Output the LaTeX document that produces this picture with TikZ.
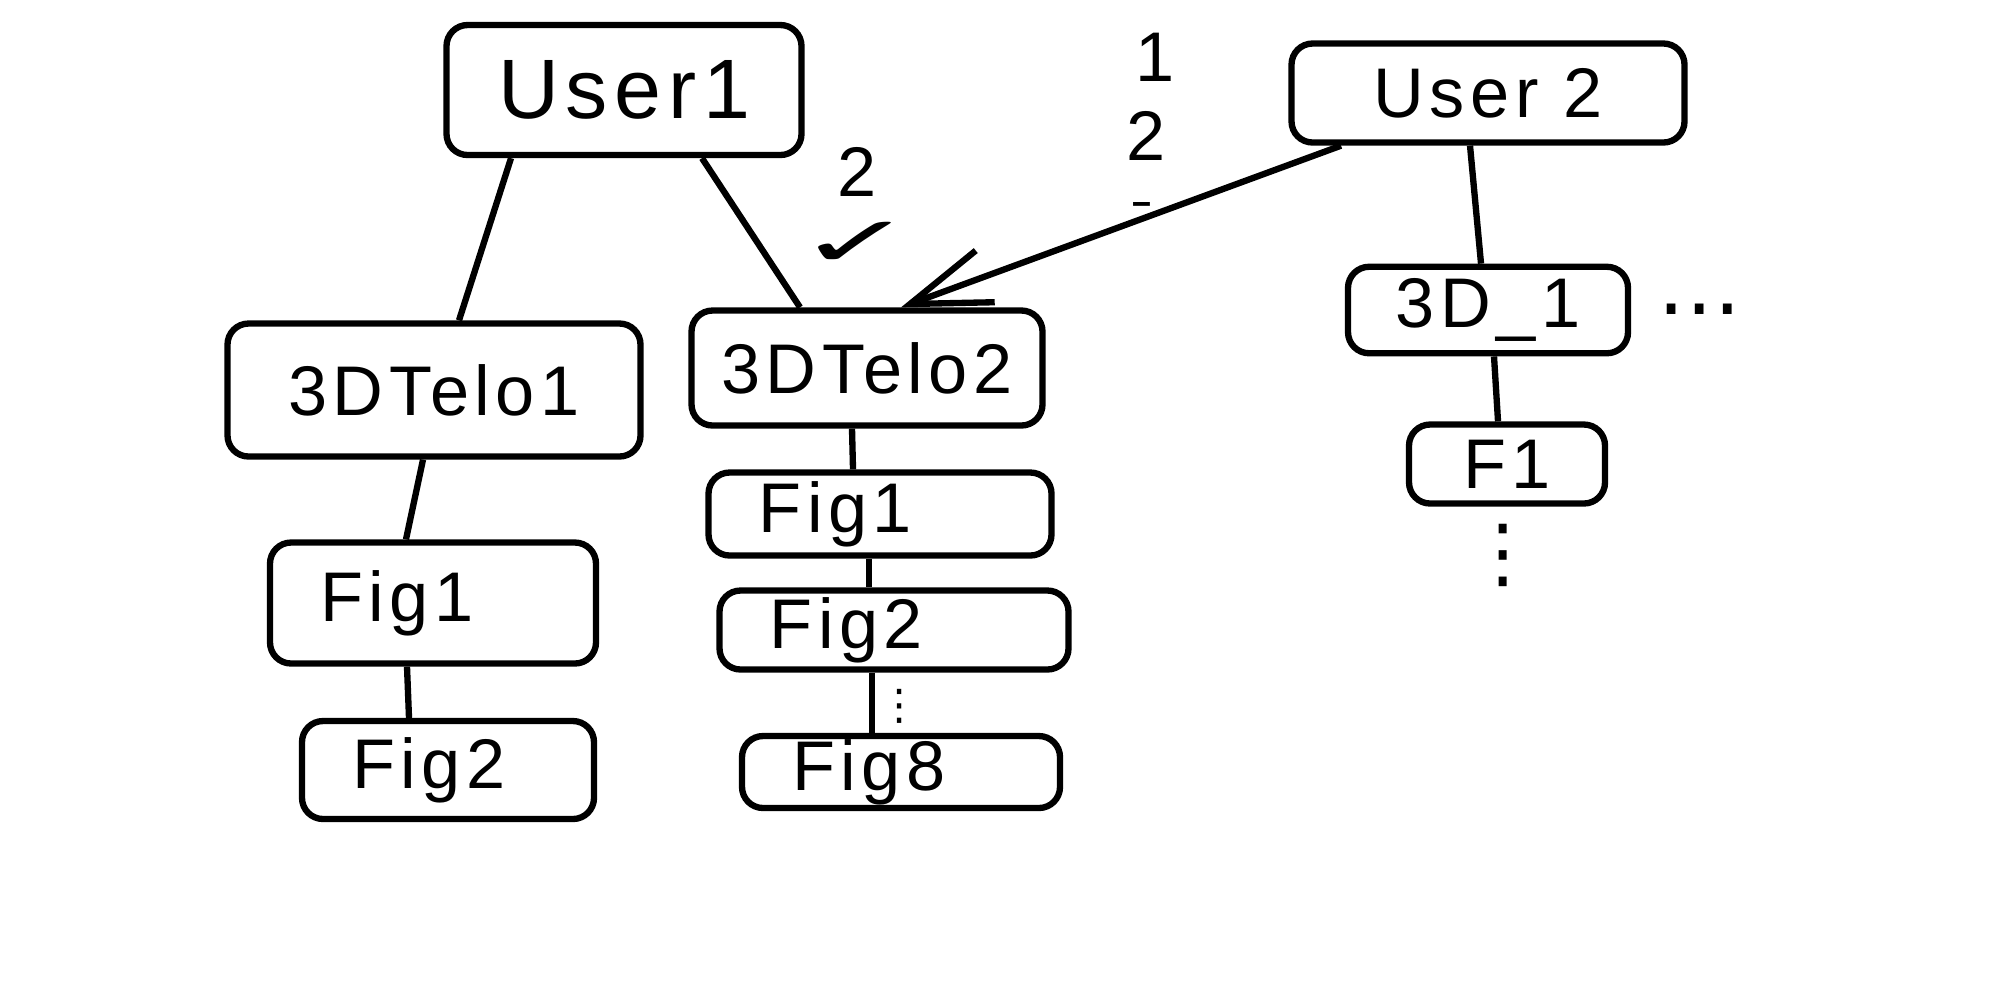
\documentclass[tikz,border=0pt]{standalone}
\usepackage{fontspec}
\setmainfont{Liberation Sans}[LetterSpace=8]
\newfontfamily\symfont{DejaVu Sans}
\usetikzlibrary{arrows.meta}

\begin{document}
\begin{tikzpicture}
	\tikzstyle{box}=[draw=black, line width=1.8pt, rounded corners=6pt, font=\fontsize{20}{24}\selectfont]
	\tikzstyle{figbox}=[box, align=left, inner xsep=5mm, inner ysep=0pt]
	\tikzstyle{wire}=[line width=1.8pt]
	\tikzstyle{note}=[inner sep=0pt, font=\fontsize{20}{24}\selectfont]
	
	\useasboundingbox (0,0) rectangle (19.9,-9.89);
	
	\node at (6.24,-0.90) [box, minimum width=3.55cm, minimum height=1.30cm, font=\fontsize{24}{28}\selectfont] (u1) {User1};
	\node at (14.88,-0.93) [box, minimum width=3.93cm, minimum height=0.99cm] (u2) {User 2};
	
	\node at (4.34,-3.90) [box, minimum width=4.13cm, minimum height=1.33cm] (t1) {3DTelo1};
	\node at (8.67,-3.68) [box, minimum width=3.51cm, minimum height=1.15cm] (t2) {3DTelo2};
	\node at (14.88,-3.10) [box, minimum width=2.80cm, minimum height=0.85cm] (d1) {3D\_1};
	\node at (15.07,-4.64) [box, minimum width=1.96cm, minimum height=0.79cm] (f1) {F1};
	
	\node at (4.33,-6.03) [figbox, text width=2.26cm, minimum height=1.21cm] (fa) {Fig1};
	\node at (4.48,-7.70) [figbox, text width=1.92cm, minimum height=0.98cm] (fb) {Fig2};
	\node at (8.80,-5.14) [figbox, text width=2.43cm, minimum height=0.83cm] (fc) {Fig1};
	\node at (8.94,-6.30) [figbox, text width=2.49cm, minimum height=0.79cm] (fd) {Fig2};
	\node at (9.01,-7.72) [figbox, text width=2.18cm, minimum height=0.72cm] (fe) {Fig8};
	
	\draw [wire] ([xshift=-1.13cm]u1.south) -- ([xshift=0.25cm]t1.north);
	\draw [wire] ([xshift=0.78cm]u1.south) -- ([xshift=-0.67cm]t2.north);
	\draw [wire, -{Straight Barb[length=8mm, width=5.5mm, line width=1.8pt]}] ([xshift=-1.47cm]u2.south) -- ([xshift=0.34cm]t2.north);
	\draw [wire] ([xshift=-0.18cm]u2.south) -- ([xshift=-0.07cm]d1.north);
	\draw [wire] ([xshift=0.06cm]d1.south) -- ([xshift=-0.09cm]f1.north);
	
	\draw [wire] ([xshift=-0.11cm]t1.south) -- ([xshift=-0.27cm]fa.north);
	\draw [wire] ([xshift=-0.26cm]fa.south) -- ([xshift=-0.39cm]fb.north);
	\draw [wire] ([xshift=-0.15cm]t2.south) -- ([xshift=-0.27cm]fc.north);
	\draw [wire] ([xshift=-0.11cm]fc.south) -- ([xshift=-0.25cm]fd.north);
	\draw [wire] ([xshift=-0.22cm]fd.south) -- ([xshift=-0.29cm]fe.north);
	
	\node at (8.57,-1.72) [note] (two) {2};
	\node at (8.56,-2.44) [note, xscale=2, font=\symfont\fontsize{20}{24}\selectfont] (check) {✓};
	\node at (11.55,-0.57) [note] (one) {1};
	\node at (11.46,-1.36) [note] (twob) {2};
	\node at (11.42,-2.10) [note, xscale=1.4, font=\fontsize{14}{16}\selectfont] (dash) {-};
	
	\node at (17.00,-3.20) [note, font=\symfont\fontsize{24}{28}\selectfont] (hdots) {⋯};
	\node at (15.03,-5.55) [note, font=\symfont\fontsize{22}{26}\selectfont] (vdotsa) {⋮};
	\node at (9.00,-7.06) [note, font=\symfont\fontsize{12}{14}\selectfont] (vdotsb) {⋮};
\end{tikzpicture}
\end{document}
